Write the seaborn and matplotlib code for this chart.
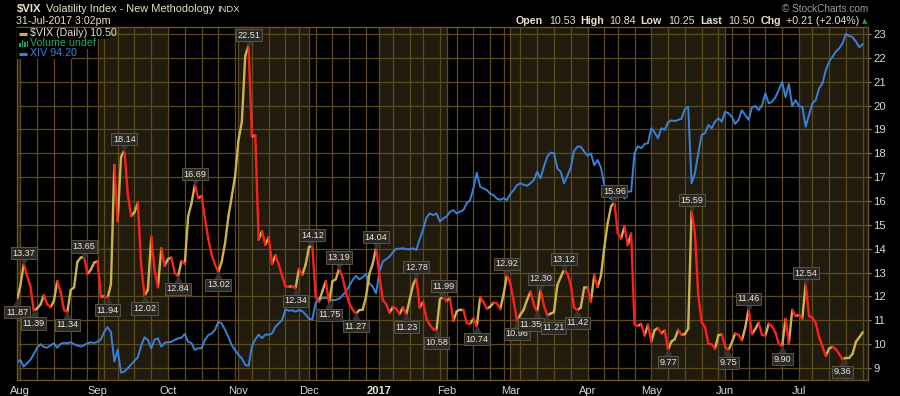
import numpy as np
import pandas as pd
import matplotlib
matplotlib.use("Agg")
import matplotlib.pyplot as plt
import seaborn as sns
from matplotlib.transforms import ScaledTranslation
from matplotlib.patches import Rectangle
from matplotlib.lines import Line2D

# ---------------- data ----------------
holidays = ["2016-09-05", "2016-11-24", "2016-12-26", "2017-01-02", "2017-01-16",
            "2017-02-20", "2017-04-14", "2017-05-29", "2017-07-04"]
dates = pd.bdate_range("2016-07-29", "2017-07-31", freq="C", holidays=holidays)

vix = [
    # Jul 29 - Sep 1
    11.87, 12.44, 13.37, 12.86, 12.42, 11.39, 11.50, 11.66, 12.05, 11.68, 11.55, 11.81, 12.64,
    12.19, 11.43, 11.34, 12.27, 12.38, 13.45, 13.63, 13.65, 12.94, 13.12, 13.42, 13.48,
    # Sep 2 - Sep 30
    11.98, 12.02, 11.94, 12.51, 17.50, 15.16, 17.85, 18.14, 16.30, 15.37, 15.53, 15.92, 13.30,
    12.02, 12.29, 14.50, 13.10, 12.39, 14.02, 13.29,
    # Oct
    13.57, 13.63, 12.99, 12.84, 13.48, 13.38, 15.36, 15.91, 16.69, 16.12, 16.21, 15.28, 14.41,
    13.75, 13.34, 13.02, 13.46, 14.24, 15.36, 16.19, 17.06,
    # Nov
    18.56, 19.32, 22.08, 22.51, 18.71, 18.74, 14.38, 14.74, 14.17, 14.48, 13.37, 13.72, 13.35,
    12.85, 12.42, 12.41, 12.43, 12.34, 13.15, 12.90, 13.33,
    # Dec
    14.07, 14.12, 11.97, 11.79, 12.22, 12.64, 11.75, 12.64, 12.72, 13.19, 12.79, 12.20, 11.71,
    11.45, 11.27, 11.43, 11.44, 11.99, 12.95, 13.37, 14.04,
    # Jan
    12.85, 11.85, 11.67, 11.32, 11.56, 11.49, 11.26, 11.54, 11.23, 11.87, 12.48, 12.78, 11.54,
    11.77, 11.07, 10.81, 10.63, 10.58, 11.88, 11.99,
    # Feb
    11.81, 11.93, 10.97, 11.37, 11.45, 11.45, 10.88, 10.85, 11.07, 10.74, 11.97, 11.76, 11.49,
    11.57, 11.74, 11.71, 11.47, 12.09, 12.92,
    # Mar
    12.54, 11.81, 10.96, 11.24, 11.45, 11.86, 12.20, 11.66, 11.35, 12.30, 11.63, 11.21, 11.28,
    11.34, 12.47, 12.81, 13.12, 12.96, 12.50, 11.53, 11.42, 11.54, 12.37,
    # Apr
    12.38, 11.79, 12.89, 12.39, 12.87, 14.05, 15.07, 15.77, 15.96, 14.66, 14.42, 14.93, 14.15,
    14.63, 10.84, 10.76, 10.85, 10.36, 10.82,
    # May
    10.11, 10.59, 10.68, 10.46, 10.57, 9.77, 10.11, 10.21, 10.60, 10.40, 10.42, 10.65, 15.59,
    14.66, 12.04, 10.93, 10.72, 10.02, 9.99, 9.81, 10.38, 10.41,
    # Jun
    9.89, 9.75, 10.07, 10.45, 10.39, 10.16, 10.70, 11.46, 10.42, 10.64, 10.90, 10.38, 10.37,
    10.86, 10.75, 10.48, 10.02, 9.90, 11.06, 10.03, 11.44, 11.18,
    # Jul
    11.22, 11.07, 12.54, 11.19, 11.11, 10.89, 10.30, 9.90, 9.51, 9.82, 9.89, 9.79, 9.58,
    9.36, 9.43, 9.43, 9.60, 10.11, 10.29, 10.50,
]

# XIV overlay, read in the chart's own (VIX) price units
xiv = [
    9.23, 9.34, 9.06, 9.20, 9.35, 9.58, 9.85, 10.00, 9.88, 9.85, 9.95, 10.04, 9.85,
    10.01, 10.06, 10.04, 10.08, 10.00, 9.94, 9.90, 9.96, 10.04, 10.08, 10.05, 10.10,
    10.20, 10.52, 10.71, 10.50, 9.27, 9.76, 8.81, 8.85, 8.99, 9.15, 9.30, 9.45, 9.94,
    10.29, 10.18, 9.83, 10.20, 10.24, 9.90, 10.06,
    10.08, 10.10, 10.18, 10.24, 10.27, 10.43, 10.10, 10.04, 9.76, 9.83, 9.83, 10.18, 10.38,
    10.45, 10.60, 10.94, 10.87, 10.60, 10.30, 9.95, 9.75,
    9.55, 9.40, 9.13, 9.09, 9.90, 10.20, 10.40, 10.25, 10.40, 10.40, 10.45, 10.73, 10.87,
    11.01, 11.46, 11.40, 11.42, 11.36, 11.43, 11.38, 11.25,
    11.06, 11.04, 11.75, 11.92, 11.92, 11.95, 11.88, 11.83, 11.86, 11.90, 12.05, 12.20, 12.44,
    12.69, 12.86, 12.72, 12.80, 12.94, 12.55, 12.41, 12.13,
    13.05, 13.46, 13.56, 13.67, 13.85, 14.00, 14.00, 14.02, 13.98, 13.98, 14.02, 13.95, 14.40,
    14.80, 15.30, 15.48, 15.41, 15.48, 15.14, 15.27,
    15.35, 15.55, 15.62, 15.48, 15.55, 15.62, 15.90, 16.04, 16.53, 17.19, 16.60, 16.53, 16.46,
    16.30, 16.25, 16.10, 16.05, 16.12, 16.04,
    16.30, 16.46, 16.67, 16.74, 16.68, 16.64, 16.74, 16.88, 17.23, 16.95, 17.44, 17.86, 18.03,
    18.00, 17.37, 17.23, 16.74, 17.05, 17.40, 18.10, 18.28, 18.28, 18.07,
    17.90, 18.00, 17.50, 17.72, 17.40, 16.67, 16.20, 16.10, 16.00, 16.20, 16.35, 16.10, 16.40,
    16.40, 18.00, 18.30, 18.21, 18.39, 18.42,
    19.05, 18.87, 18.63, 19.05, 18.98, 19.30, 19.38, 19.35, 19.40, 19.45, 19.85, 19.95, 16.74,
    17.16, 18.00, 18.77, 18.84, 19.19, 19.05, 19.33, 19.47, 19.33,
    19.74, 19.68, 19.53, 19.23, 19.40, 19.81, 19.60, 19.40, 19.93, 19.98, 19.81, 20.02, 20.51,
    20.09, 20.16, 20.35, 20.65, 21.00, 20.35, 20.90, 19.98, 20.23,
    19.98, 19.95, 19.12, 19.60, 20.09, 20.23, 20.72, 20.93, 21.49, 21.84, 22.05, 22.26, 22.40,
    22.61, 23.00, 22.92, 22.86, 22.68, 22.44, 22.58,
]

high_labels = [2, 20, 32, 53, 69, 88, 96, 107, 119, 127, 146, 156, 163, 178, 201, 218, 235]
low_labels = [0, 5, 15, 27, 38, 48, 60, 83, 93, 101, 116, 125, 137, 149, 155, 158, 167,
              194, 212, 228, 246]
# small sideways nudges (points) for the two crowded March labels
label_nudge = {155: -4.5, 158: 4.5}

month_names = ["Aug", "Sep", "Oct", "Nov", "Dec", "2017", "Feb", "Mar", "Apr", "May", "Jun", "Jul"]
y_ticks = list(range(9, 24))

n = len(vix)
assert len(xiv) == n
if len(dates) != n:
    dates = pd.bdate_range("2016-07-29", periods=n, freq="B")
idx = np.arange(n)

# month and week starts (trading-day index)
months = dates.month
month_starts = [i for i in range(1, n) if months[i] != months[i - 1]]
wk = dates.isocalendar().week.values
week_starts = [i for i in range(1, n) if wk[i] != wk[i - 1]]

# ---------------- style ----------------
sns.set_style("dark")
plt.rcParams["font.family"] = ["Liberation Sans", "DejaVu Sans"]
plt.rcParams["lines.solid_capstyle"] = "round"
plt.rcParams["lines.solid_joinstyle"] = "round"

BG = "black"
SHADE = "#211b0e"
GRID = "#5e4a1f"
SPINE = "#6b5427"
CREAM = "#e8e0c8"
UP = "#cbb34a"
DOWN = "#ff1e1e"
BLUE = "#3a80d8"
TICKC = "#d6d6d6"

W, H = 900, 396
fig = plt.figure(figsize=(W / 100, H / 100), dpi=100, facecolor=BG)
ax = fig.add_axes([17 / W, 16 / H, 851 / W, 353 / H], facecolor=BG)


def fx(x):
    return x / W


def fy(y):
    return 1 - y / H


# month shading (alternate months)
bounds = [-1] + month_starts + [n + 5]
for k in range(len(bounds) - 1):
    if k % 2 == 0:
        ax.axvspan(bounds[k], bounds[k + 1], color=SHADE, lw=0, zorder=0.1)

# XIV overlay
sns.lineplot(x=idx, y=xiv, ax=ax, color=BLUE, lw=1.4, zorder=2)

# VIX: segments coloured by direction
rows = []
for k in range(n - 1):
    d = "up" if vix[k + 1] >= vix[k] else "down"
    rows.append((k, idx[k], vix[k], d))
    rows.append((k, idx[k + 1], vix[k + 1], d))
seg = pd.DataFrame(rows, columns=["seg", "i", "v", "dir"])
sns.lineplot(data=seg, x="i", y="v", hue="dir", units="seg", estimator=None,
             palette={"up": UP, "down": DOWN}, lw=1.7, legend=False, ax=ax,
             sort=False, zorder=3)

# value labels
up_off = ScaledTranslation(0, 3.2 / 72, fig.dpi_scale_trans)
dn_off = ScaledTranslation(0, -3.2 / 72, fig.dpi_scale_trans)
for i in high_labels + low_labels:
    hi = i in high_labels
    v = vix[i]
    ax.plot([i], [v], marker="v" if hi else "^", ms=6.5, color="#35332e", mec="#35332e",
            transform=ax.transData + (up_off if hi else dn_off), zorder=5, clip_on=False)
    ax.annotate(f"{v:.2f}", xy=(i, v), xytext=(label_nudge.get(i, 0), 7.6 if hi else -9.0),
                textcoords="offset points", ha="center", va="center", fontsize=6.6,
                color="#f0e8d2", zorder=6, annotation_clip=False,
                bbox=dict(boxstyle="square,pad=0.17", fc="#2a2926", ec="#5c5546", lw=0.7))

# axes
ax.set_xlim(0, 851 / 3.356)
ax.set_ylim(23 - (380 - 34) / 23.86, 23 + 7 / 23.86)
ax.set_xlabel("")
ax.set_ylabel("")
ax.set_xticks(month_starts)
ax.set_xticklabels(month_names[:len(month_starts)])
ax.set_xticks(week_starts, minor=True)
ax.set_yticks(y_ticks)
ax.set_yticklabels([str(t) for t in y_ticks])
ax.yaxis.tick_right()
ax.set_axisbelow(True)
ax.grid(True, which="both", axis="x", color=GRID, lw=0.9)
ax.grid(True, which="major", axis="y", color=GRID, lw=0.9)
ax.tick_params(axis="x", which="both", length=0, pad=4, labelsize=8, labelcolor=TICKC)
ax.tick_params(axis="y", length=2.5, color="#8a8a8a", pad=1.5, labelsize=8.2, labelcolor=TICKC)
for lab in ax.get_xticklabels():
    if lab.get_text() == "2017":
        lab.set_fontweight("bold")
        lab.set_color(CREAM)
for s in ax.spines.values():
    s.set_color(SPINE)
    s.set_linewidth(1.0)
    s.set_visible(True)

# ---------------- header texts ----------------
fig.text(fx(16.5), fy(9), r"\$VIX", fontsize=8.2, weight="bold", color=CREAM, va="center")
fig.text(fx(46), fy(9), "Volatility Index - New Methodology", fontsize=7.9, color=CREAM, va="center")
fig.text(fx(217), fy(9.5), "INDX", fontsize=6.8, color=CREAM, va="center")
fig.text(fx(16), fy(21.5), "31-Jul-2017 3:02pm", fontsize=7.7, color=CREAM, va="center")
fig.text(fx(868), fy(9), "© StockCharts.com", fontsize=7.2, color="#9c9c9c", va="center", ha="right")

ohlc = [(515.7, "Open", True), (549, "10.53", False), (580.7, "High", True), (609, "10.84", False),
        (640.7, "Low", True), (668.3, "10.25", False), (700.7, "Last", True), (728.3, "10.50", False),
        (760.7, "Chg", True), (785.7, "+0.21 (+2.04%)", False)]
for x, t, b in ohlc:
    fig.text(fx(x), fy(21.5), t, fontsize=7.7, color=CREAM, va="center",
             weight="bold" if b else "normal")
fig.text(fx(865), fy(21), "▲", fontsize=5, color="#1fa040", va="center", ha="center",
         family=["DejaVu Sans"])

# ---------------- legend ----------------
for (x0, x1, y0, y1) in [(17, 110, 28, 38.5), (17, 92, 38.5, 48.5), (17, 72, 48.5, 58.5)]:
    fig.add_artist(Rectangle((fx(x0), fy(y1)), (x1 - x0) / W, (y1 - y0) / H,
                             transform=fig.transFigure, fc="black", ec="none", zorder=4))
fig.add_artist(Line2D([fx(19), fx(27)], [fy(33.5), fy(33.5)], color=UP, lw=2.2,
                      transform=fig.transFigure, zorder=5, solid_capstyle="butt"))
fig.add_artist(Line2D([fx(19), fx(27)], [fy(53.5), fy(53.5)], color=BLUE, lw=2.2,
                      transform=fig.transFigure, zorder=5, solid_capstyle="butt"))
GREEN = "#1ea866"
for (bx, bh) in [(19, 4), (21.5, 7), (24, 5), (26.5, 6)]:
    fig.add_artist(Rectangle((fx(bx), fy(47)), 1.8 / W, bh / H, transform=fig.transFigure,
                             fc=GREEN, ec="none", zorder=5))
fig.text(fx(30), fy(33.5), r"\$VIX (Daily) 10.50", fontsize=7.7, color=CREAM, va="center", zorder=6)
fig.text(fx(30), fy(43.5), "Volume undef", fontsize=7.7, color=GREEN, va="center", zorder=6)
fig.text(fx(30), fy(53.5), "XIV 94.20", fontsize=7.7, color=BLUE, va="center", zorder=6)

fig.savefig("out.png", dpi=100, facecolor=BG)
